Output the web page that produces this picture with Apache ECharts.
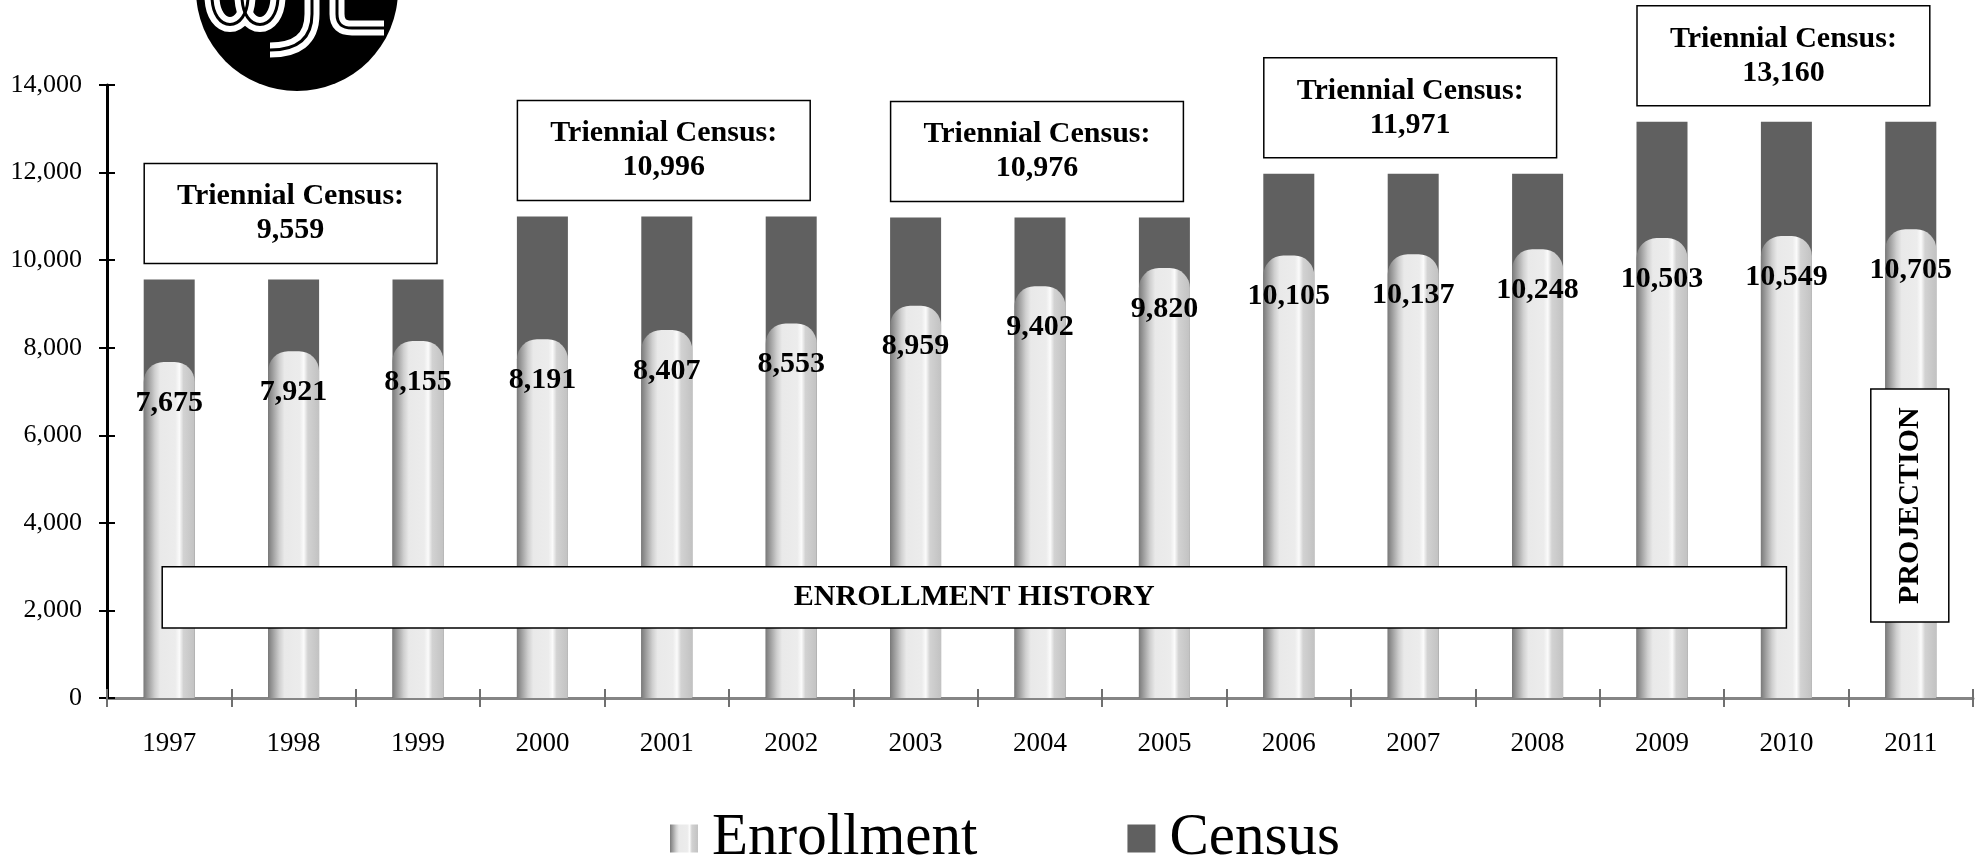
<!DOCTYPE html>
<html>
<head>
<meta charset="utf-8">
<title>Enrollment vs Census</title>
<script src="https://cdn.jsdelivr.net/npm/echarts@6/dist/echarts.min.js"></script>
<style>
  html, body { margin:0; padding:0; background:#fff; }
  #main { width:1980px; height:861px; }
</style>
</head>
<body>
<div id="main"></div>
<script>
var years = ['1997','1998','1999','2000','2001','2002','2003','2004','2005','2006','2007','2008','2009','2010','2011'];
var enrollment = [7675, 7921, 8155, 8191, 8407, 8553, 8959, 9402, 9820, 10105, 10137, 10248, 10503, 10549, 10705];
var census = [9559, 9559, 9559, 10996, 10996, 10996, 10976, 10976, 10976, 11971, 11971, 11971, 13160, 13160, 13160];
var yTicks = [0, 2000, 4000, 6000, 8000, 10000, 12000, 14000];

var serif = "'Times New Roman', 'Liberation Serif', serif";
function fmt(v){ return Number(v).toLocaleString('en-US'); }

var chart = echarts.init(document.getElementById('main'));

// cylinder-ish shading for the enrollment bars
var tubeColor = new echarts.graphic.LinearGradient(0, 0, 1, 0, [
  {offset:0, color:'#7a7a7a'},
  {offset:0.22, color:'#cfcfcf'},
  {offset:0.32, color:'#e9e9e9'},
  {offset:0.62, color:'#ececec'},
  {offset:0.7, color:'#fbfbfb'},
  {offset:0.78, color:'#d2d2d2'},
  {offset:1, color:'#c2c2c2'}
]);

var option = {
  backgroundColor:'#fff',
  animation:false,
  grid:{ left:107, right:7, top:85, bottom:163 },
  legend:{
    data:['Enrollment','Census'],
    left:665,
    top:804,
    icon:'rect',
    itemWidth:28,
    itemHeight:28,
    itemGap:150,
    textStyle:{ fontFamily:serif, fontSize:59, color:'#000', padding:[0,0,0,9] }
  },
  xAxis:[{
    type:'category',
    data:years,
    axisLine:{ lineStyle:{ color:'#858585', width:3 } },
    axisTick:{ show:true, length:9, lineStyle:{ color:'#707070', width:2 } },
    axisLabel:{ fontFamily:serif, fontSize:27, color:'#000', margin:32 }
  },{
    type:'category',
    data:years,
    position:'bottom',
    axisLine:{ show:false },
    axisTick:{ show:true, inside:true, length:9, lineStyle:{ color:'#707070', width:2 } },
    axisLabel:{ show:false }
  }],
  yAxis:[{
    type:'value',
    min:yTicks[0], max:yTicks[yTicks.length - 1], interval:2000,
    axisLine:{ show:true, lineStyle:{ color:'#000', width:3 } },
    axisTick:{ show:true, length:8, lineStyle:{ color:'#000', width:2 } },
    axisLabel:{ fontFamily:serif, fontSize:26, color:'#000', margin:25, formatter:fmt },
    splitLine:{ show:false }
  },{
    type:'value',
    position:'left',
    offset:0,
    min:yTicks[0], max:yTicks[yTicks.length - 1], interval:2000,
    axisLine:{ show:false },
    axisTick:{ show:true, inside:true, length:8, lineStyle:{ color:'#000', width:2 } },
    axisLabel:{ show:false },
    splitLine:{ show:false }
  }],
  series:[{
    name:'Census',
    type:'bar',
    barWidth:51,
    barGap:'-100%',
    data:census,
    itemStyle:{ color:'#606060' }
  },{
    name:'Enrollment',
    type:'bar',
    barWidth:51,
    barGap:'-100%',
    data:enrollment,
    itemStyle:{ color:tubeColor, borderRadius:[20,20,0,0] },
    label:{
      show:true,
      position:'insideTop',
      distance:26,
      fontFamily:serif,
      fontSize:30,
      fontWeight:'bold',
      color:'#000',
      formatter:function(p){ return fmt(p.value); }
    }
  }]
};
chart.setOption(option);

// annotation boxes, positioned through the chart's own scales
function px(i, v){ return chart.convertToPixel({xAxisIndex:0, yAxisIndex:0}, [i, v]); }
var boxText = { fontFamily:serif, fontSize:30, fontWeight:'bold', fill:'#000', align:'center', verticalAlign:'middle', lineHeight:34 };
var graphics = [];

// group equal census values into triennial boxes
var start = 0;
for (var i = 1; i <= census.length; i++) {
  if (i === census.length || census[i] !== census[start]) {
    var a = px(start, census[start]);
    var b = px(i - 1, census[start]);
    var x0 = a[0] - 25, x1 = b[0] + 19;
    var bottom = a[1] - 16;
    graphics.push({
      type:'rect', shape:{ x:x0, y:bottom - 100, width:x1 - x0, height:100 },
      style:{ fill:'#fff', stroke:'#000', lineWidth:1.5 }, z:10
    });
    graphics.push({
      type:'text', x:(x0 + x1) / 2, y:bottom - 50,
      style:Object.assign({ text:'Triennial Census:\n' + fmt(census[start]) }, boxText), z:11
    });
    start = i;
  }
}

// ENROLLMENT HISTORY banner
var h0 = px(0, 3000), h1 = px(13, 1600);
graphics.push({
  type:'rect', shape:{ x:h0[0] - 7, y:h0[1], width:h1[0] - h0[0] + 7, height:h1[1] - h0[1] },
  style:{ fill:'#fff', stroke:'#000', lineWidth:1.5 }, z:10
});
graphics.push({
  type:'text', x:(h0[0] - 7 + h1[0]) / 2, y:(h0[1] + h1[1]) / 2,
  style:Object.assign({ text:'ENROLLMENT HISTORY' }, boxText), z:11
});

// PROJECTION box
var p0 = px(14, 7055), p1 = px(14, 1735);
graphics.push({
  type:'rect', shape:{ x:p0[0] - 40, y:p0[1], width:78, height:p1[1] - p0[1] },
  style:{ fill:'#fff', stroke:'#000', lineWidth:1.5 }, z:10
});
graphics.push({
  type:'text', x:p0[0] - 1, y:(p0[1] + p1[1]) / 2, rotation:Math.PI / 2,
  style:Object.assign({ text:'PROJECTION' }, boxText), z:11
});

// logo, cropped at the top of the page
graphics.push({ type:'circle', shape:{ cx:297, cy:-10, r:101 }, style:{ fill:'#000' }, z:5 });
var logoStrokes = [
  { type:'bezierCurve', shape:{ x1:212, y1:-4, cpx1:212, cpy1:34, cpx2:248, cpy2:34, x2:248, y2:-4 } },
  { type:'bezierCurve', shape:{ x1:242, y1:-4, cpx1:242, cpy1:34, cpx2:278, cpy2:34, x2:278, y2:-4 } },
  { type:'line', shape:{ x1:312, y1:-4, x2:312, y2:14 } },
  { type:'bezierCurve', shape:{ x1:312, y1:14, cpx1:312, cpy1:40, cpx2:296, cpy2:50, x2:270, y2:50 } },
  { type:'line', shape:{ x1:337, y1:-4, x2:337, y2:14 } },
  { type:'bezierCurve', shape:{ x1:337, y1:14, cpx1:337, cpy1:24, cpx2:342, cpy2:28, x2:352, y2:28 } },
  { type:'line', shape:{ x1:352, y1:28, x2:384, y2:28 } }
];
logoStrokes.forEach(function(s){
  graphics.push({ type:s.type, shape:s.shape, style:{ fill:null, stroke:'#fff', lineWidth:15 }, z:6 });
});
logoStrokes.forEach(function(s){
  graphics.push({ type:s.type, shape:s.shape, style:{ fill:null, stroke:'#000', lineWidth:3 }, z:7 });
});

chart.setOption({ graphic:graphics });
</script>
</body>
</html>
